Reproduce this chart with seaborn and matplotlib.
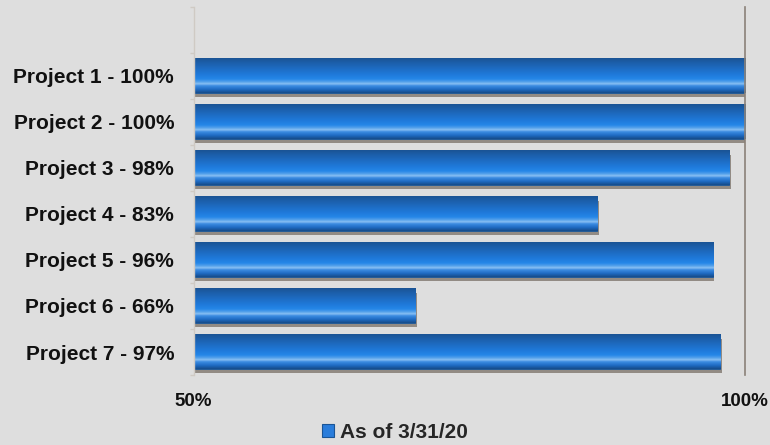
import numpy as np
import pandas as pd
import seaborn as sns
import matplotlib.pyplot as plt
import matplotlib.patheffects as pe
from matplotlib.colors import LinearSegmentedColormap
from matplotlib.patches import Patch

# data (bar lengths, % complete)
projects = ["Project 1 - 100%", "Project 2 - 100%", "Project 3 - 98%",
            "Project 4 - 83%", "Project 5 - 96%", "Project 6 - 66%",
            "Project 7 - 97%"]
values = [100, 100, 98.6, 86.6, 97.1, 70.1, 97.8]
series = "As of 3/31/20"

df = pd.DataFrame({"project": projects, "value": values, "series": series})

sns.set_theme(style="white")
plt.rcParams["font.family"] = ["Liberation Sans", "DejaVu Sans"]
plt.rcParams["font.weight"] = "bold"

bg = "#dedede"
x_min, x_max = 50, 100

fig = plt.figure(figsize=(7.7, 4.45), dpi=100, facecolor=bg)
ax = fig.add_axes([0.2513, 0.1573, 0.7156, 0.827])
ax.set_facecolor(bg)

sns.barplot(data=df, x="value", y="project", hue="series", orient="h",
            palette=["#2178d8"], width=0.74, legend=False, ax=ax,
            edgecolor="#1a5596", linewidth=0.6)

# glossy vertical gradient for the bars
grad = LinearSegmentedColormap.from_list("gloss", [
    (0.00, "#1a5495"), (0.12, "#1c5ea9"), (0.45, "#1f78d8"),
    (0.60, "#2486e8"), (0.68, "#52a0ea"), (0.74, "#8ac0f3"),
    (0.80, "#3c8ce2"), (0.90, "#1f6cc4"), (1.00, "#164d8c")])
col = np.linspace(0, 1, 64).reshape(-1, 1)

for bar in ax.patches:
    x0, y0 = bar.get_x(), bar.get_y()
    w, h = bar.get_width(), bar.get_height()
    left = max(x0, x_min)
    bar.set_path_effects([pe.SimplePatchShadow(offset=(1.2, -3.2),
                                               shadow_rgbFace="#8a827a",
                                               alpha=0.9), pe.Normal()])
    im = ax.imshow(col, cmap=grad, aspect="auto", origin="upper",
                   extent=(left, x0 + w, y0 + h, y0), zorder=bar.get_zorder() + 0.1)

ax.set_xlim(x_min, x_max)
ax.set_ylim(6.5, -1.5)
ax.set_xticks([x_min, x_max])
ax.set_xticklabels(["50%", "100%"], fontsize=13.5, fontweight="bold", color="#111111")
ax.set_yticks(range(len(projects)))
ax.set_yticklabels(projects, fontsize=15, fontweight="bold", color="#111111")
ax.set_yticks(np.arange(-1.5, 7, 1), minor=True)
ax.tick_params(axis="x", length=0, pad=13)
ax.tick_params(axis="y", which="major", length=0, pad=14)
ax.tick_params(axis="y", which="minor", length=3, width=1, color="#cfcac4", left=True)
ax.set_xlabel("")
ax.set_ylabel("")

for side in ["top", "bottom"]:
    ax.spines[side].set_visible(False)
ax.spines["left"].set_color("#cfcac4")
ax.spines["left"].set_linewidth(1)
ax.spines["right"].set_color("#8a8178")
ax.spines["right"].set_linewidth(1.2)

handle = Patch(facecolor="#2a7ddb", edgecolor="#1a5596", linewidth=0.8)
fig.legend([handle], [series], loc="center", bbox_to_anchor=(0.513, 0.029),
           frameon=False, handlelength=0.6, handleheight=0.6, handletextpad=0.3,
           prop={"size": 15, "weight": "bold"})

fig.savefig("out.png", dpi=100, facecolor=bg)
